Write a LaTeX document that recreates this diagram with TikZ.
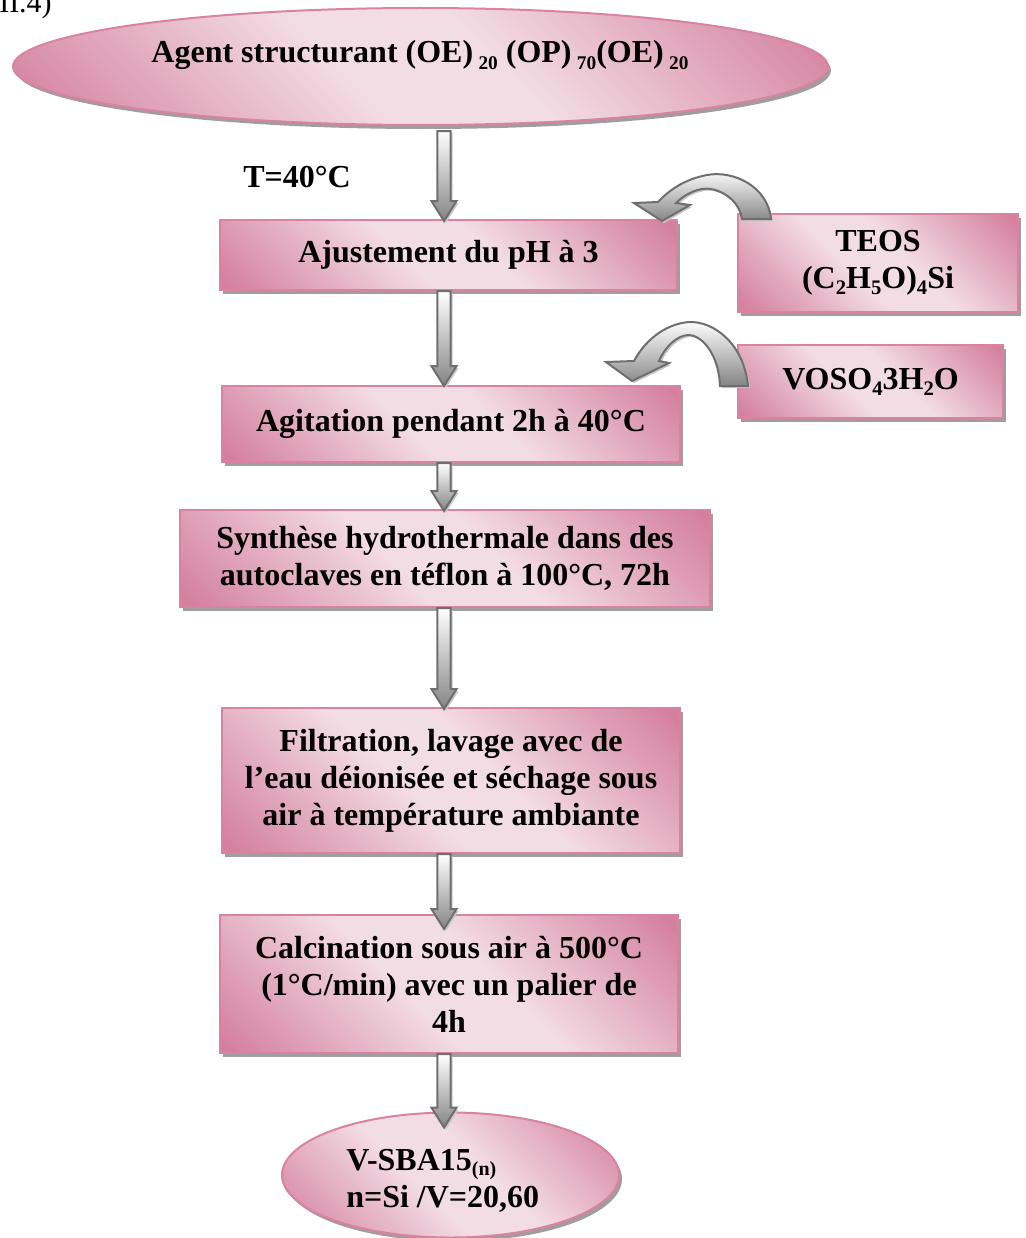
\documentclass[tikz,border=0pt]{standalone}
\usepackage{fontspec}
\setmainfont{Liberation Serif}
\usetikzlibrary{shapes.geometric,shadows,calc}
\definecolor{pinkdark}{HTML}{D4809E}
\definecolor{pinklight}{HTML}{F3DDE5}
\definecolor{pinkedge}{HTML}{D8839F}
\definecolor{arrowedge}{HTML}{6E6E6E}
\definecolor{shadowgrey}{HTML}{A29C9E}
\pgfdeclarehorizontalshading{pinkband}{100bp}{color(0bp)=(pinkdark); color(16bp)=(pinkdark); color(44bp)=(pinklight); color(56bp)=(pinklight); color(84bp)=(pinkdark); color(100bp)=(pinkdark)}
\pgfdeclareverticalshading{greyfall}{100bp}{color(0bp)=(black!48); color(25bp)=(black!48); color(75bp)=(white); color(100bp)=(white)}
\newcommand\lowsub[1]{\raisebox{-0.45ex}{\fontsize{14.5}{14.5}\selectfont #1}}
\newcommand\chemsub[1]{\raisebox{-0.4ex}{\fontsize{15.5}{15.5}\selectfont #1}}
\newcommand\blockdown[4]{%
  \path[blockarr] let \p1=(#1.south), \p2=(#2.north), \p3=(axis) in
    ({\x3-4.9pt},{\y1-#3*0.75pt}) -- ({\x3+4.9pt},{\y1-#3*0.75pt})
    -- ({\x3+4.9pt},{\y2-#4*0.75pt+15pt}) -- ({\x3+9.4pt},{\y2-#4*0.75pt+15pt})
    -- ({\x3},{\y2-#4*0.75pt}) -- ({\x3-9.4pt},{\y2-#4*0.75pt+15pt})
    -- ({\x3-4.9pt},{\y2-#4*0.75pt+15pt}) -- cycle;}
\tikzset{
  txt/.style={font=\bfseries\fontsize{24}{27.75}\selectfont, align=center, inner sep=0pt},
  stepbox/.style={rectangle, draw=pinkedge, line width=1.5pt, shading=pinkband, shading angle=45,
    general shadow={shadow xshift=2.25pt, shadow yshift=-3pt, fill=shadowgrey},
    txt},
  ovalbox/.style={ellipse, draw=pinkedge, line width=1.5pt, shading=pinkband, shading angle=45,
    general shadow={shadow xshift=2.25pt, shadow yshift=-3pt, fill=shadowgrey}, inner sep=0pt},
  blockarr/.style={draw=arrowedge, line width=1.5pt, shading=greyfall, line join=miter,
    general shadow={shadow xshift=1.5pt, shadow yshift=-1.5pt, fill=black!22}},
}
\begin{document}
\begin{tikzpicture}[x=0.75pt,y=-0.75pt]
\useasboundingbox (0,0) rectangle (1025,1238);
\coordinate (axis) at (444,0);
% caption fragment
\node[anchor=base east, inner sep=0pt, font=\fontsize{22.5}{27}\selectfont] (cap) at (52,13) {II.4)};
% top ellipse
\node[ovalbox, minimum width=815*0.75pt, minimum height=117*0.75pt] (agent) at (420.5,66.5) {};
\node[txt] (agenttxt) at (420,55) {Agent structurant (OE)\,\lowsub{20} (OP)\,\lowsub{70}(OE)\,\lowsub{20}};
\node[txt, anchor=west] (temp) at (243,177) {T=40°C};
% boxes
\node[stepbox, minimum width=457*0.75pt, minimum height=70*0.75pt] (b1) at (448.5,255) {Ajustement du pH à 3};
\node[stepbox, minimum width=280*0.75pt, minimum height=98*0.75pt] (teos) at (878,263) {TEOS\\(C\chemsub{2}H\chemsub{5}O)\chemsub{4}Si};
\node[stepbox, minimum width=265*0.75pt, minimum height=73*0.75pt] (voso) at (870.5,381.5) {VOSO\chemsub{4}3H\chemsub{2}O};
\node[stepbox, minimum width=458*0.75pt, minimum height=76*0.75pt] (b2) at (451,424) {Agitation pendant 2h à 40°C};
\node[stepbox, minimum width=530*0.75pt, minimum height=97*0.75pt] (b3) at (445,558.5) {Synthèse hydrothermale dans des\\autoclaves en téflon à 100°C, 72h};
\node[stepbox, minimum width=458*0.75pt, minimum height=145*0.75pt] (b4) at (451,780.5) {Filtration, lavage avec de\\l’eau déionisée et séchage sous\\air à température ambiante};
\node[stepbox, minimum width=458*0.75pt, minimum height=138*0.75pt] (b5) at (449,984) {Calcination sous air à 500°C\\(1°C/min) avec un palier de\\4h};
% bottom ellipse
\node[ovalbox, minimum width=337*0.75pt, minimum height=125*0.75pt] (sba) at (450.5,1175) {};
\node[txt, align=left, anchor=west] (sbatxt) at (346,1181) {V-SBA15\raisebox{-0.3ex}{\fontsize{15}{15}\selectfont(n)}\\n=Si /V=20,60};
% straight block arrows
\blockdown{agent}{b1}{5}{2}
\blockdown{b1}{b2}{0}{1}
\blockdown{b2}{b3}{0}{2}
\blockdown{b3}{b4}{0}{2}
\blockdown{b4}{b5}{0}{15}
\blockdown{b5}{sba}{0}{16}
% curved block arrows
\begin{scope}[shift={(teos.north west)}]
\path[blockarr] (34,6) .. controls (31,-26) and (-3,-43) .. (-30,-38)
  .. controls (-51,-34) and (-67,-24) .. (-79,-11) -- (-103,-10) -- (-75,8) -- (-47,-8) -- (-61,-10)
  .. controls (-52,-19) and (-38,-26) .. (-26,-24)
  .. controls (-10,-21) and (3,-9) .. (5,6) -- cycle;
\end{scope}
\begin{scope}[shift={(voso.north west)}]
\path[blockarr] (11,42) .. controls (7,0) and (-23,-23) .. (-48,-22)
  .. controls (-73,-20) and (-93,-2) .. (-103,17) -- (-131,18) -- (-105,37) -- (-68,19) -- (-78,17)
  .. controls (-72,3) and (-60,-9) .. (-48,-9)
  .. controls (-33,-8) and (-18,13) .. (-17,42) -- cycle;
\end{scope}
\end{tikzpicture}
\end{document}
